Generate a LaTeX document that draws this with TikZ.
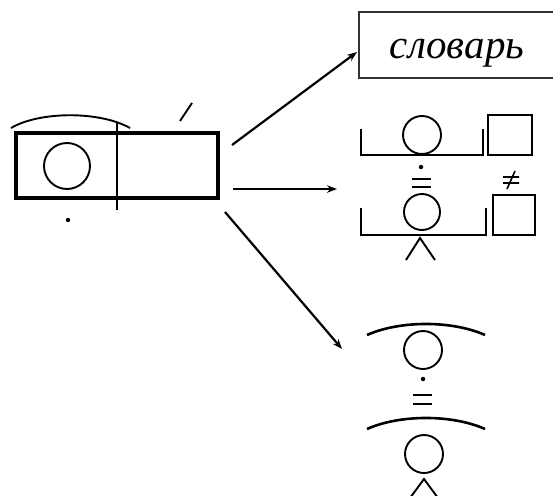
\documentclass[tikz,border=0pt]{standalone}
\usepackage{fontspec}
\setmainfont{Liberation Serif}
\usetikzlibrary{arrows.meta}
\begin{document}
\begin{tikzpicture}[x=1pt,y=-1pt,
  frame/.style={draw,line width=3.6pt,inner sep=0pt},
  stroke/.style={line width=1.9pt},
  bracket/.style={line width=2.6pt},
  ring/.style={circle,draw,line width=1.9pt,inner sep=0pt},
  dotmark/.style={circle,fill,inner sep=0pt,minimum size=4.5pt},
  arr/.style={line width=2.2pt,-{Stealth[length=10pt,width=7.5pt]}},
  dictbox/.style={line width=1.3pt,draw=black!80}]
\useasboundingbox (0,0) rectangle (553,495);

% word scheme on the left
\node[frame,minimum width=202pt,minimum height=65pt] (word) at (117,165.5) {};
\draw[stroke] (117,122) -- (117,210);
\node[ring,minimum size=46pt] (root) at (67,166) {};
\draw[stroke] (11,128) .. controls (40,111) and (100,111) .. (130,128);
\draw[stroke] (180,121) -- (192,103);
\node[dotmark] (rootdot) at (68,220) {};

% dictionary box
\draw[dictbox] (556,12) -- (359,12) -- (359,78) -- (556,78);
\node[font=\fontsize{41}{45}\selectfont\itshape] (dict) at (457,53) {словарь};

% compared forms
\draw[bracket] (361,129) -- (361,155) -- (483,155) -- (483,129);
\node[ring,minimum size=38pt] (r1) at (422,135) {};
\draw[stroke] (488,115) rectangle (532,155);
\node[dotmark] (d1) at (421,167) {};
\draw[line width=2.4pt] (412,179) -- (431,179) (412,187) -- (431,187);
\node[ring,minimum size=36pt] (r2) at (422,212) {};
\draw[bracket] (361,208) -- (361,235) -- (486,235) -- (486,208);
\draw[stroke] (493,195) rectangle (535,235);
\draw[line width=1.6pt] (503,177) -- (519,177) (503,183) -- (519,183) (507,189) -- (515,171);
\draw[stroke] (406,260) -- (420,238) -- (435,260);

% related roots
\draw[bracket] (367,335) .. controls (400,320.3) and (452,320.3) .. (485,335);
\node[ring,minimum size=38pt] (r3) at (423,350) {};
\node[dotmark] (d3) at (423,379) {};
\draw[line width=2.4pt] (413,395) -- (432,395) (413,404) -- (432,404);
\draw[bracket] (367,429) .. controls (400,414.3) and (452,414.3) .. (485,429);
\node[ring,minimum size=38pt] (r4) at (424,454) {};
\draw[stroke] (410,498) -- (424,479) -- (438,498);

% connectors
\coordinate (s1) at (232,145);
\coordinate (t1) at (357,52);
\coordinate (s2) at (233,189);
\coordinate (t2) at (337,189);
\coordinate (s3) at (225,212);
\coordinate (t3) at (342,349);
\draw[arr] (s1) -- (t1);
\draw[arr] (s2) -- (t2);
\draw[arr] (s3) -- (t3);
\end{tikzpicture}
\end{document}
